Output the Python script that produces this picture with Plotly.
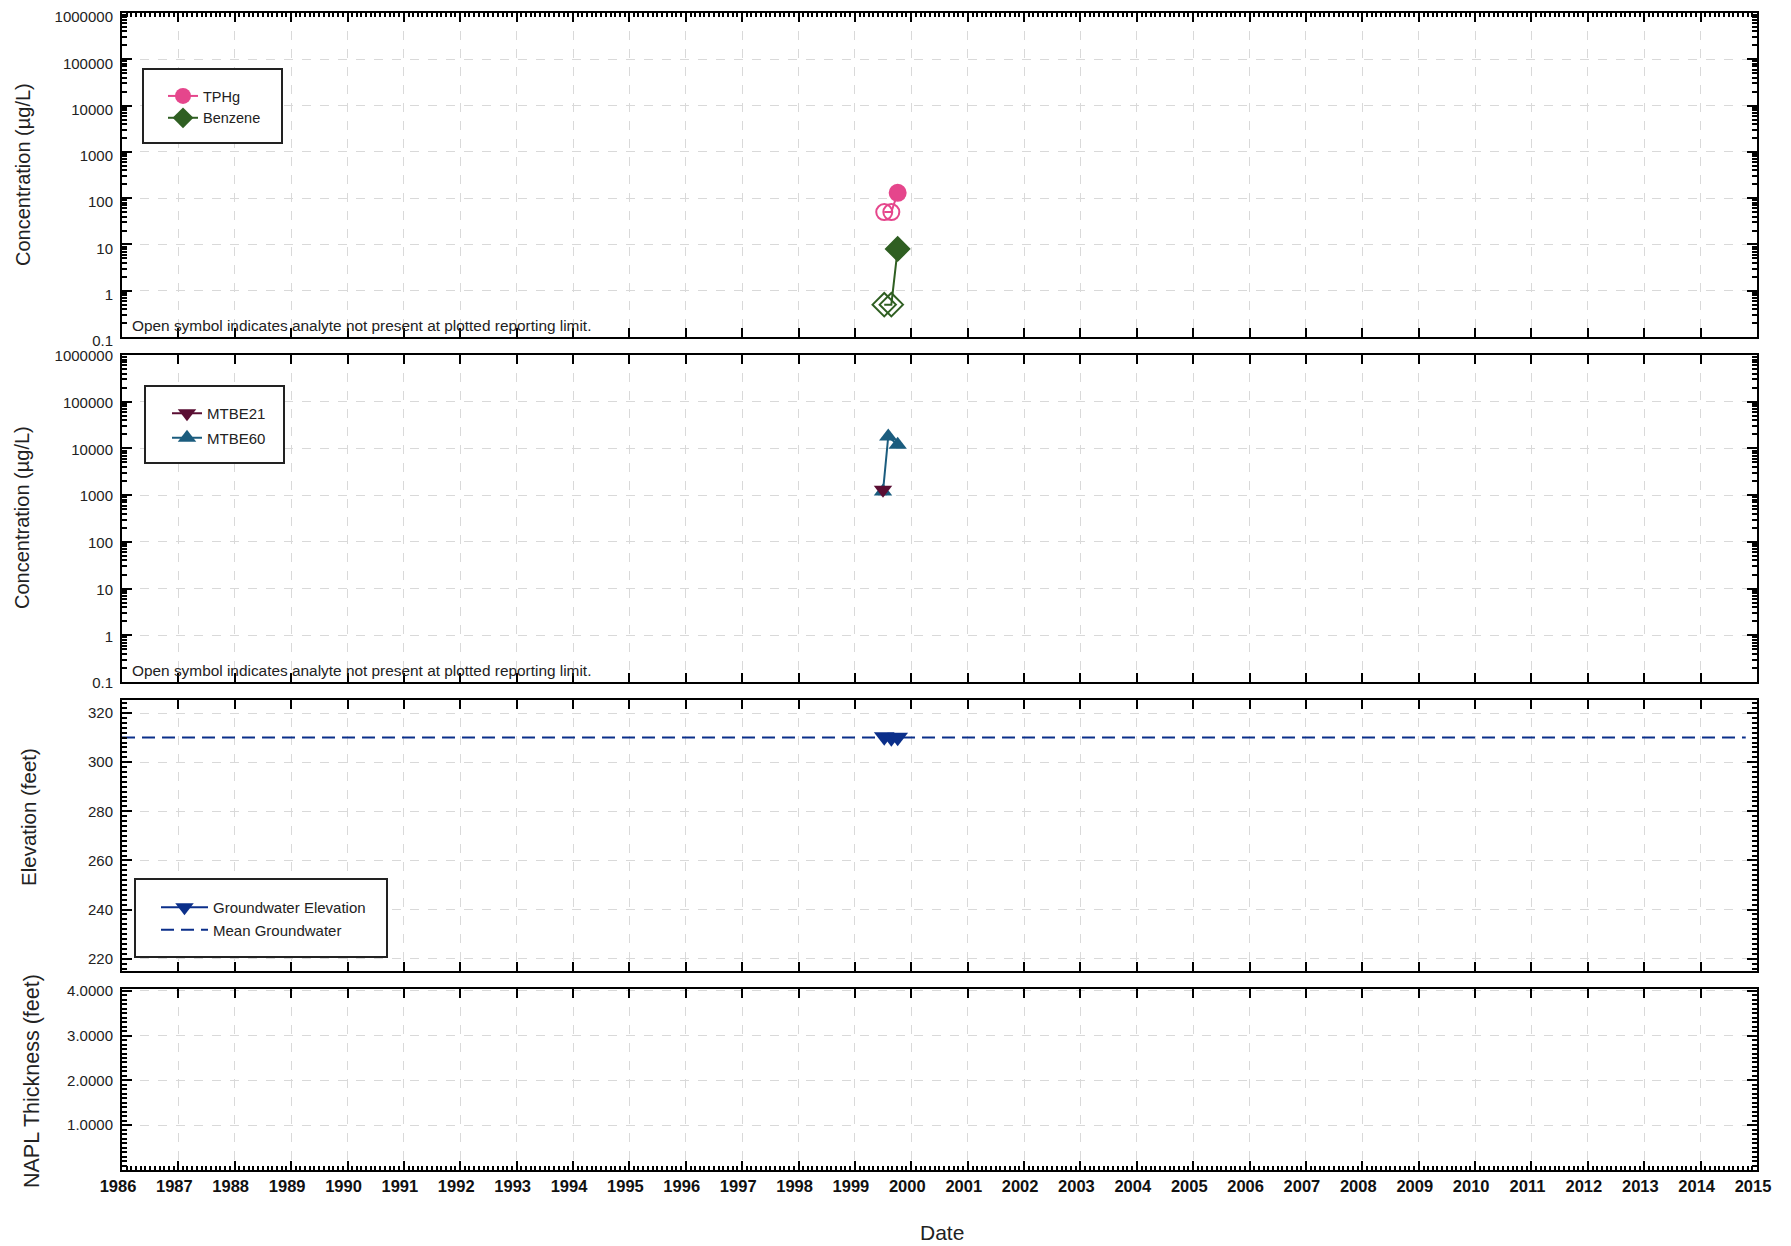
import plotly.graph_objects as go
from plotly.subplots import make_subplots

# ---------------- data ----------------
tphg_dates = ["1999-07-10", "1999-08-25", "1999-10-05"]
tphg_vals = [50, 50, 130]
tphg_detect = [False, False, True]

benz_dates = ["1999-07-10", "1999-08-25", "1999-10-05"]
benz_vals = [0.5, 0.5, 8]
benz_detect = [False, False, True]

mtbe21_dates = ["1999-07-02"]
mtbe21_vals = [1300]

mtbe60_dates = ["1999-07-02", "1999-08-05", "1999-10-05"]
mtbe60_vals = [1200, 18000, 12000]

gw_dates = ["1999-07-10", "1999-08-25", "1999-10-05"]
gw_vals = [310.3, 309.9, 310.1]
gw_mean = 310.0
mean_span = ["1986-01-01", "2014-10-20"]

x_range = ["1986-01-01", "2015-01-01"]
log_ticks = [0.1, 1, 10, 100, 1000, 10000, 100000, 1000000]
log_ticktext = ["0.1", "1", "10", "100", "1000", "10000", "100000", "1000000"]
napl_ticks = [1, 2, 3, 4]
napl_ticktext = ["1.0000", "2.0000", "3.0000", "4.0000"]
elev_ticks = [220, 240, 260, 280, 300, 320]

# ---------------- style ----------------
FONT = "Liberation Sans, Arial, sans-serif"
C_TPHG = "#E5468C"
C_BENZ = "#2F5F22"
C_M21 = "#5A0E33"
C_M60 = "#1B5C7E"
C_GW = "#0B2F8A"
GRID = "#D9D9D9"
TXT = "#222"

# page offset (html body margin) compensation
OFF = 8
W, H = 1791 - OFF, 1246 - OFF
PL, PT, PR, PB = 122, 13, 1757, 1170          # plot area in page pixels
L, T = PL - OFF, PT - OFF
R, B = W - (PR - OFF), H - (PB - OFF)
PW = PR - PL
PH = PB - PT


def px_x(x):
    return (x - PL) / PW


def px_y(y):
    return (PB - y) / PH


fig = make_subplots(rows=4, cols=1, shared_xaxes=True)

# Panel 1 data traces
fig.add_trace(go.Scatter(
    x=tphg_dates, y=tphg_vals, mode="lines+markers", showlegend=False,
    line=dict(color=C_TPHG, width=2),
    marker=dict(size=16, color=C_TPHG,
                symbol=["circle" if d else "circle-open" for d in tphg_detect],
                line=dict(width=2, color=C_TPHG))), row=1, col=1)
fig.add_trace(go.Scatter(
    x=benz_dates, y=benz_vals, mode="lines+markers", showlegend=False,
    line=dict(color=C_BENZ, width=2),
    marker=dict(size=18, color=C_BENZ,
                symbol=["diamond" if d else "diamond-open" for d in benz_detect],
                line=dict(width=2, color=C_BENZ))), row=1, col=1)
# legend entries
fig.add_trace(go.Scatter(
    x=[None], y=[None], mode="lines+markers", name="TPHg",
    line=dict(color=C_TPHG, width=2),
    marker=dict(size=18, color=C_TPHG, symbol="circle"),
    legend="legend"), row=1, col=1)
fig.add_trace(go.Scatter(
    x=[None], y=[None], mode="lines+markers", name="Benzene",
    line=dict(color=C_BENZ, width=2),
    marker=dict(size=18, color=C_BENZ, symbol="diamond"),
    legend="legend"), row=1, col=1)

# Panel 2
fig.add_trace(go.Scatter(
    x=mtbe60_dates, y=mtbe60_vals, mode="lines+markers", showlegend=False,
    line=dict(color=C_M60, width=2),
    marker=dict(size=16, color=C_M60, symbol="triangle-up")), row=2, col=1)
fig.add_trace(go.Scatter(
    x=mtbe21_dates, y=mtbe21_vals, mode="lines+markers", showlegend=False,
    line=dict(color=C_M21, width=2),
    marker=dict(size=16, color=C_M21, symbol="triangle-down")), row=2, col=1)
fig.add_trace(go.Scatter(
    x=[None], y=[None], mode="lines+markers", name="MTBE21",
    legendgroup="m21",
    line=dict(color=C_M21, width=2),
    marker=dict(size=17, color=C_M21, symbol="triangle-down"),
    legend="legend2"), row=2, col=1)
fig.add_trace(go.Scatter(
    x=[None], y=[None], mode="lines+markers", name="MTBE60",
    legendgroup="m60",
    line=dict(color=C_M60, width=2),
    marker=dict(size=17, color=C_M60, symbol="triangle-up"),
    legend="legend2"), row=2, col=1)

# Panel 3
fig.add_trace(go.Scatter(
    x=mean_span, y=[gw_mean, gw_mean], mode="lines", showlegend=False,
    line=dict(color=C_GW, width=2, dash="13px,7px")), row=3, col=1)
fig.add_trace(go.Scatter(
    x=gw_dates, y=gw_vals, mode="lines+markers", showlegend=False,
    line=dict(color=C_GW, width=2),
    marker=dict(size=18, color=C_GW, symbol="triangle-down")), row=3, col=1)
fig.add_trace(go.Scatter(
    x=[None], y=[None], mode="lines+markers", name="Groundwater Elevation",
    line=dict(color=C_GW, width=2),
    marker=dict(size=17, color=C_GW, symbol="triangle-down"),
    legend="legend3"), row=3, col=1)
fig.add_trace(go.Scatter(
    x=[None], y=[None], mode="lines", name="Mean Groundwater",
    line=dict(color=C_GW, width=2, dash="13px,7px"),
    legend="legend3"), row=3, col=1)

# Panel 4 (empty)
fig.add_trace(go.Scatter(x=[mean_span[0]], y=[None], mode="markers",
                         showlegend=False, hoverinfo="skip"), row=4, col=1)

# helper traces for the top-side tick axes
fig.add_trace(go.Scatter(x=[None], y=[None], xaxis="x5", yaxis="y",
                         showlegend=False, hoverinfo="skip"))
fig.add_trace(go.Scatter(x=[None], y=[None], xaxis="x6", yaxis="y4",
                         showlegend=False, hoverinfo="skip"))

domains = [
    [px_y(337), px_y(PT)],
    [px_y(682), px_y(355)],
    [px_y(971), px_y(700)],
    [0, px_y(989)],
]

major_x = dict(
    type="date", range=x_range,
    dtick="M12", tick0="1986-01-01", tickformat="%Y",
    ticks="inside", ticklen=9, tickwidth=2, tickcolor="black",
    zeroline=False, automargin=False,
)
minor_x = dict(dtick="M1", ticks="inside", ticklen=4, tickwidth=1.5,
               tickcolor="black", showgrid=False)
frame = dict(showline=True, linecolor="black", linewidth=2,
             showgrid=True, gridcolor=GRID, griddash="dash", gridwidth=1)

fig.update_xaxes(row=1, col=1, mirror=True, showticklabels=False,
                 **major_x, **frame)
fig.update_xaxes(row=2, col=1, mirror="ticks", showticklabels=False,
                 **major_x, **frame)
fig.update_xaxes(row=3, col=1, mirror="ticks", showticklabels=False,
                 **major_x, **frame)
fig.update_xaxes(row=4, col=1, mirror=True, showticklabels=True,
                 minor=minor_x, ticklabelshift=-4,
                 tickfont=dict(family=FONT, size=16.5, color="#111",
                               weight="bold"),
                 **major_x, **frame)

common_y = dict(
    ticks="inside", ticklen=10, tickwidth=2, tickcolor="black",
    showline=True, linecolor="black", linewidth=2, mirror="ticks",
    showgrid=True, gridcolor=GRID, griddash="dash", gridwidth=1,
    zeroline=False, tickfont=dict(family=FONT, size=15, color=TXT),
    ticklabelstandoff=4, automargin=False, ticklabeloverflow="allow",
)
log_minor = [m * 10 ** e for e in range(-1, 6) for m in range(2, 10)]
for i in (1, 2):
    fig.update_yaxes(row=i, col=1, type="log", range=[-1, 6],
                     tickvals=log_ticks, ticktext=log_ticktext,
                     ticklabelshift=(4 if i == 1 else 1),
                     minor=dict(tickvals=log_minor, ticks="inside", ticklen=5,
                                tickwidth=1.5, tickcolor="black",
                                showgrid=False),
                     domain=domains[i - 1], **common_y)
fig.update_yaxes(row=3, col=1, range=[215, 325.3], tickvals=elev_ticks,
                 minor=dict(dtick=2, ticks="inside", ticklen=5, tickwidth=1.5,
                            tickcolor="black", showgrid=False),
                 domain=domains[2], **common_y)
fig.update_yaxes(row=4, col=1, range=[0, 4.04], tickvals=napl_ticks,
                 ticktext=napl_ticktext,
                 minor=dict(dtick=0.1, ticks="inside", ticklen=5,
                            tickwidth=1.5, tickcolor="black", showgrid=False),
                 domain=domains[3], **common_y)

# legend boxes as shapes (page pixel coords)
boxes = [(143, 69, 282, 143), (145, 386, 284, 463), (135, 879, 387, 957)]
shapes = []
for (x0, y0, x1, y1) in boxes:
    shapes.append(dict(type="rect", xref="paper", yref="paper",
                       x0=px_x(x0), x1=px_x(x1), y0=px_y(y1), y1=px_y(y0),
                       line=dict(color=TXT, width=2), fillcolor="white",
                       layer="above"))

leg_common = dict(xref="paper", yref="paper", xanchor="left", yanchor="top",
                  bgcolor="rgba(0,0,0,0)", borderwidth=0,
                  itemsizing="trace")

annotations = []
ytitles = [("Concentration (µg/L)", 23, 175, 20),
           ("Concentration (µg/L)", 22, 518, 20),
           ("Elevation (feet)", 28, 817, 20.5),
           ("NAPL Thickness (feet)", 32, 1081, 21.5)]
for text, xp, yp, fs in ytitles:
    annotations.append(dict(text=text, xref="paper", yref="paper",
                            x=px_x(xp), y=px_y(yp), textangle=-90,
                            showarrow=False, xanchor="center", yanchor="middle",
                            font=dict(family=FONT, size=fs, color=TXT)))
annotations.append(dict(text="Date", xref="paper", yref="paper",
                        x=px_x(942), y=px_y(1232), showarrow=False,
                        xanchor="center", yanchor="middle",
                        font=dict(family=FONT, size=21, color=TXT)))
note = "Open symbol indicates analyte not present at plotted reporting limit."
for yref in ("y domain", "y2 domain"):
    annotations.append(dict(text=note, xref="paper", yref=yref,
                            x=px_x(130), y=0.004, xanchor="left",
                            yanchor="bottom", showarrow=False,
                            font=dict(family=FONT, size=15.4, color=TXT)))

top_axis = dict(type="date", range=x_range, dtick="M12", tick0="1986-01-01",
                side="top", ticks="inside", ticklen=9, tickwidth=2,
                tickcolor="black", showticklabels=False, showgrid=False,
                showline=False, zeroline=False, automargin=False)

fig.update_layout(
    width=W, height=H,
    margin=dict(l=L, r=R, t=T, b=B, autoexpand=False),
    paper_bgcolor="white", plot_bgcolor="white",
    font=dict(family=FONT, color=TXT),
    shapes=shapes, annotations=annotations,
    xaxis5=dict(overlaying="x", anchor="y", minor=minor_x, **top_axis),
    xaxis6=dict(overlaying="x4", anchor="y4", **top_axis),
    legend=dict(x=px_x(163), y=px_y(80), tracegroupgap=0,
                font=dict(family=FONT, size=14.5, color=TXT), **leg_common),
    legend2=dict(x=px_x(167), y=px_y(397), tracegroupgap=2,
                 traceorder="grouped",
                 font=dict(family=FONT, size=15, color=TXT), **leg_common),
    legend3=dict(x=px_x(156), y=px_y(891), itemwidth=47, tracegroupgap=0,
                 font=dict(family=FONT, size=15, color=TXT), **leg_common),
    showlegend=True,
)

fig.write_html("out.html")
